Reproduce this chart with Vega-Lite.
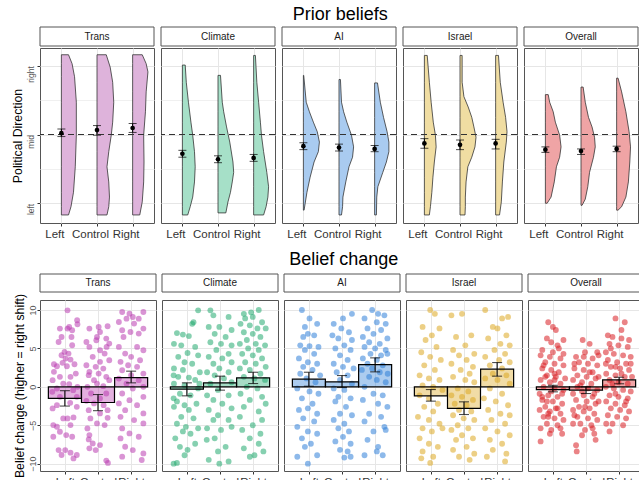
{
"$schema": "https://vega.github.io/schema/vega-lite/v6.json",
"background": "white",
"padding": {"left": 11, "top": 6, "right": 0, "bottom": 0},
"config": {
  "font": "Liberation Sans",
  "view": {"stroke": "#555555", "strokeWidth": 1},
  "axis": {"domain": false, "gridColor": "#e6e6e6", "gridWidth": 1, "tickColor": "#333333", "tickSize": 3, "tickWidth": 1, "labelColor": "#555555", "titleFontWeight": "normal", "titleColor": "#000000", "titleFontSize": 12.3},
  "axisX": {"labelFontSize": 11.5, "labelColor": "#333333", "labelPadding": 2},
  "title": {"fontSize": 18, "fontWeight": "normal", "color": "#000000", "anchor": "middle", "offset": 4}
},
"resolve": {"scale": {"x": "independent", "y": "independent", "color": "independent", "fill": "independent"}},
"spacing": 10,
"datasets": {
"top": [
{"k":"v","t":"Trans","g":1,"v":1.16,"xr":1.2,"xb":1},{"k":"v","t":"Trans","g":1,"v":1.03,"xr":1.3,"xb":1},{"k":"v","t":"Trans","g":1,"v":0.84,"xr":1.37,"xb":1},{"k":"v","t":"Trans","g":1,"v":0.47,"xr":1.42,"xb":1},{"k":"v","t":"Trans","g":1,"v":-0.01,"xr":1.42,"xb":1},{"k":"v","t":"Trans","g":1,"v":-0.47,"xr":1.39,"xb":1},{"k":"v","t":"Trans","g":1,"v":-0.84,"xr":1.34,"xb":1},{"k":"v","t":"Trans","g":1,"v":-1.05,"xr":1.27,"xb":1},{"k":"v","t":"Trans","g":1,"v":-1.17,"xr":1.2,"xb":1},
{"k":"v","t":"Trans","g":2,"v":1.16,"xr":2.26,"xb":2},{"k":"v","t":"Trans","g":2,"v":0.98,"xr":2.37,"xb":2},{"k":"v","t":"Trans","g":2,"v":0.76,"xr":2.44,"xb":2},{"k":"v","t":"Trans","g":2,"v":0.47,"xr":2.47,"xb":2},{"k":"v","t":"Trans","g":2,"v":0.18,"xr":2.44,"xb":2},{"k":"v","t":"Trans","g":2,"v":-0.01,"xr":2.4,"xb":2},{"k":"v","t":"Trans","g":2,"v":-0.25,"xr":2.33,"xb":2},{"k":"v","t":"Trans","g":2,"v":-0.47,"xr":2.28,"xb":2},{"k":"v","t":"Trans","g":2,"v":-0.69,"xr":2.33,"xb":2},{"k":"v","t":"Trans","g":2,"v":-0.91,"xr":2.35,"xb":2},{"k":"v","t":"Trans","g":2,"v":-1.05,"xr":2.33,"xb":2},{"k":"v","t":"Trans","g":2,"v":-1.17,"xr":2.28,"xb":2},
{"k":"v","t":"Trans","g":3,"v":1.16,"xr":3.27,"xb":3},{"k":"v","t":"Trans","g":3,"v":1.03,"xr":3.38,"xb":3},{"k":"v","t":"Trans","g":3,"v":0.91,"xr":3.43,"xb":3},{"k":"v","t":"Trans","g":3,"v":0.62,"xr":3.38,"xb":3},{"k":"v","t":"Trans","g":3,"v":0.33,"xr":3.36,"xb":3},{"k":"v","t":"Trans","g":3,"v":-0.01,"xr":3.31,"xb":3},{"k":"v","t":"Trans","g":3,"v":-0.4,"xr":3.32,"xb":3},{"k":"v","t":"Trans","g":3,"v":-0.69,"xr":3.31,"xb":3},{"k":"v","t":"Trans","g":3,"v":-0.98,"xr":3.27,"xb":3},{"k":"v","t":"Trans","g":3,"v":-1.17,"xr":3.2,"xb":3},
{"k":"v","t":"Climate","g":1,"v":1.01,"xr":1.08,"xb":1},{"k":"v","t":"Climate","g":1,"v":0.76,"xr":1.11,"xb":1},{"k":"v","t":"Climate","g":1,"v":0.47,"xr":1.17,"xb":1},{"k":"v","t":"Climate","g":1,"v":0.18,"xr":1.24,"xb":1},{"k":"v","t":"Climate","g":1,"v":-0.01,"xr":1.29,"xb":1},{"k":"v","t":"Climate","g":1,"v":-0.25,"xr":1.34,"xb":1},{"k":"v","t":"Climate","g":1,"v":-0.47,"xr":1.36,"xb":1},{"k":"v","t":"Climate","g":1,"v":-0.69,"xr":1.34,"xb":1},{"k":"v","t":"Climate","g":1,"v":-0.91,"xr":1.29,"xb":1},{"k":"v","t":"Climate","g":1,"v":-1.05,"xr":1.22,"xb":1},{"k":"v","t":"Climate","g":1,"v":-1.17,"xr":1.15,"xb":1},
{"k":"v","t":"Climate","g":2,"v":0.86,"xr":2.07,"xb":2},{"k":"v","t":"Climate","g":2,"v":0.47,"xr":2.12,"xb":2},{"k":"v","t":"Climate","g":2,"v":0.33,"xr":2.16,"xb":2},{"k":"v","t":"Climate","g":2,"v":0.11,"xr":2.24,"xb":2},{"k":"v","t":"Climate","g":2,"v":-0.11,"xr":2.33,"xb":2},{"k":"v","t":"Climate","g":2,"v":-0.4,"xr":2.42,"xb":2},{"k":"v","t":"Climate","g":2,"v":-0.55,"xr":2.44,"xb":2},{"k":"v","t":"Climate","g":2,"v":-0.69,"xr":2.4,"xb":2},{"k":"v","t":"Climate","g":2,"v":-0.84,"xr":2.35,"xb":2},{"k":"v","t":"Climate","g":2,"v":-0.98,"xr":2.28,"xb":2},{"k":"v","t":"Climate","g":2,"v":-1.14,"xr":2.22,"xb":2},
{"k":"v","t":"Climate","g":3,"v":1.15,"xr":3.05,"xb":3},{"k":"v","t":"Climate","g":3,"v":0.76,"xr":3.09,"xb":3},{"k":"v","t":"Climate","g":3,"v":0.47,"xr":3.14,"xb":3},{"k":"v","t":"Climate","g":3,"v":0.18,"xr":3.19,"xb":3},{"k":"v","t":"Climate","g":3,"v":-0.01,"xr":3.22,"xb":3},{"k":"v","t":"Climate","g":3,"v":-0.25,"xr":3.28,"xb":3},{"k":"v","t":"Climate","g":3,"v":-0.55,"xr":3.37,"xb":3},{"k":"v","t":"Climate","g":3,"v":-0.76,"xr":3.42,"xb":3},{"k":"v","t":"Climate","g":3,"v":-0.91,"xr":3.4,"xb":3},{"k":"v","t":"Climate","g":3,"v":-1.05,"xr":3.35,"xb":3},{"k":"v","t":"Climate","g":3,"v":-1.17,"xr":3.28,"xb":3},
{"k":"v","t":"AI","g":1,"v":0.86,"xr":1.01,"xb":1},{"k":"v","t":"AI","g":1,"v":0.47,"xr":1.08,"xb":1},{"k":"v","t":"AI","g":1,"v":0.33,"xr":1.17,"xb":1},{"k":"v","t":"AI","g":1,"v":0.18,"xr":1.28,"xb":1},{"k":"v","t":"AI","g":1,"v":0.04,"xr":1.39,"xb":1},{"k":"v","t":"AI","g":1,"v":-0.11,"xr":1.45,"xb":1},{"k":"v","t":"AI","g":1,"v":-0.25,"xr":1.42,"xb":1},{"k":"v","t":"AI","g":1,"v":-0.4,"xr":1.3,"xb":1},{"k":"v","t":"AI","g":1,"v":-0.62,"xr":1.19,"xb":1},{"k":"v","t":"AI","g":1,"v":-0.84,"xr":1.1,"xb":1},{"k":"v","t":"AI","g":1,"v":-1.1,"xr":1.02,"xb":1},
{"k":"v","t":"AI","g":2,"v":0.8,"xr":2.04,"xb":2},{"k":"v","t":"AI","g":2,"v":0.47,"xr":2.07,"xb":2},{"k":"v","t":"AI","g":2,"v":0.33,"xr":2.13,"xb":2},{"k":"v","t":"AI","g":2,"v":0.18,"xr":2.22,"xb":2},{"k":"v","t":"AI","g":2,"v":-0.01,"xr":2.35,"xb":2},{"k":"v","t":"AI","g":2,"v":-0.18,"xr":2.41,"xb":2},{"k":"v","t":"AI","g":2,"v":-0.33,"xr":2.38,"xb":2},{"k":"v","t":"AI","g":2,"v":-0.47,"xr":2.28,"xb":2},{"k":"v","t":"AI","g":2,"v":-0.69,"xr":2.19,"xb":2},{"k":"v","t":"AI","g":2,"v":-0.91,"xr":2.11,"xb":2},{"k":"v","t":"AI","g":2,"v":-1.05,"xr":2.1,"xb":2},{"k":"v","t":"AI","g":2,"v":-1.17,"xr":2.07,"xb":2},
{"k":"v","t":"AI","g":3,"v":0.75,"xr":3.08,"xb":3},{"k":"v","t":"AI","g":3,"v":0.47,"xr":3.16,"xb":3},{"k":"v","t":"AI","g":3,"v":0.25,"xr":3.25,"xb":3},{"k":"v","t":"AI","g":3,"v":0.04,"xr":3.35,"xb":3},{"k":"v","t":"AI","g":3,"v":-0.11,"xr":3.4,"xb":3},{"k":"v","t":"AI","g":3,"v":-0.25,"xr":3.4,"xb":3},{"k":"v","t":"AI","g":3,"v":-0.4,"xr":3.33,"xb":3},{"k":"v","t":"AI","g":3,"v":-0.55,"xr":3.23,"xb":3},{"k":"v","t":"AI","g":3,"v":-0.76,"xr":3.09,"xb":3},{"k":"v","t":"AI","g":3,"v":-0.91,"xr":3.06,"xb":3},{"k":"v","t":"AI","g":3,"v":-1.17,"xr":3.05,"xb":3},
{"k":"v","t":"Israel","g":1,"v":1.15,"xr":1.08,"xb":1},{"k":"v","t":"Israel","g":1,"v":0.76,"xr":1.14,"xb":1},{"k":"v","t":"Israel","g":1,"v":0.47,"xr":1.19,"xb":1},{"k":"v","t":"Israel","g":1,"v":0.18,"xr":1.25,"xb":1},{"k":"v","t":"Israel","g":1,"v":-0.01,"xr":1.31,"xb":1},{"k":"v","t":"Israel","g":1,"v":-0.18,"xr":1.33,"xb":1},{"k":"v","t":"Israel","g":1,"v":-0.4,"xr":1.28,"xb":1},{"k":"v","t":"Israel","g":1,"v":-0.62,"xr":1.24,"xb":1},{"k":"v","t":"Israel","g":1,"v":-0.84,"xr":1.21,"xb":1},{"k":"v","t":"Israel","g":1,"v":-1.05,"xr":1.17,"xb":1},{"k":"v","t":"Israel","g":1,"v":-1.17,"xr":1.14,"xb":1},
{"k":"v","t":"Israel","g":2,"v":1.15,"xr":2.06,"xb":2},{"k":"v","t":"Israel","g":2,"v":0.76,"xr":2.06,"xb":2},{"k":"v","t":"Israel","g":2,"v":0.55,"xr":2.11,"xb":2},{"k":"v","t":"Israel","g":2,"v":0.4,"xr":2.23,"xb":2},{"k":"v","t":"Israel","g":2,"v":0.25,"xr":2.33,"xb":2},{"k":"v","t":"Israel","g":2,"v":0.11,"xr":2.39,"xb":2},{"k":"v","t":"Israel","g":2,"v":-0.04,"xr":2.45,"xb":2},{"k":"v","t":"Israel","g":2,"v":-0.18,"xr":2.42,"xb":2},{"k":"v","t":"Israel","g":2,"v":-0.33,"xr":2.33,"xb":2},{"k":"v","t":"Israel","g":2,"v":-0.47,"xr":2.22,"xb":2},{"k":"v","t":"Israel","g":2,"v":-0.69,"xr":2.17,"xb":2},{"k":"v","t":"Israel","g":2,"v":-0.91,"xr":2.15,"xb":2},{"k":"v","t":"Israel","g":2,"v":-1.05,"xr":2.15,"xb":2},{"k":"v","t":"Israel","g":2,"v":-1.17,"xr":2.14,"xb":2},
{"k":"v","t":"Israel","g":3,"v":1.15,"xr":3.08,"xb":3},{"k":"v","t":"Israel","g":3,"v":0.76,"xr":3.13,"xb":3},{"k":"v","t":"Israel","g":3,"v":0.47,"xr":3.21,"xb":3},{"k":"v","t":"Israel","g":3,"v":0.25,"xr":3.28,"xb":3},{"k":"v","t":"Israel","g":3,"v":0.04,"xr":3.32,"xb":3},{"k":"v","t":"Israel","g":3,"v":-0.11,"xr":3.3,"xb":3},{"k":"v","t":"Israel","g":3,"v":-0.4,"xr":3.23,"xb":3},{"k":"v","t":"Israel","g":3,"v":-0.69,"xr":3.19,"xb":3},{"k":"v","t":"Israel","g":3,"v":-0.98,"xr":3.16,"xb":3},{"k":"v","t":"Israel","g":3,"v":-1.17,"xr":3.11,"xb":3},
{"k":"v","t":"Overall","g":1,"v":0.58,"xr":1.08,"xb":1},{"k":"v","t":"Overall","g":1,"v":0.47,"xr":1.12,"xb":1},{"k":"v","t":"Overall","g":1,"v":0.33,"xr":1.22,"xb":1},{"k":"v","t":"Overall","g":1,"v":0.18,"xr":1.28,"xb":1},{"k":"v","t":"Overall","g":1,"v":-0.01,"xr":1.4,"xb":1},{"k":"v","t":"Overall","g":1,"v":-0.18,"xr":1.44,"xb":1},{"k":"v","t":"Overall","g":1,"v":-0.33,"xr":1.4,"xb":1},{"k":"v","t":"Overall","g":1,"v":-0.47,"xr":1.31,"xb":1},{"k":"v","t":"Overall","g":1,"v":-0.69,"xr":1.25,"xb":1},{"k":"v","t":"Overall","g":1,"v":-0.91,"xr":1.16,"xb":1},{"k":"v","t":"Overall","g":1,"v":-1.0,"xr":1.05,"xb":1},
{"k":"v","t":"Overall","g":2,"v":0.69,"xr":2.06,"xb":2},{"k":"v","t":"Overall","g":2,"v":0.47,"xr":2.12,"xb":2},{"k":"v","t":"Overall","g":2,"v":0.25,"xr":2.21,"xb":2},{"k":"v","t":"Overall","g":2,"v":0.11,"xr":2.31,"xb":2},{"k":"v","t":"Overall","g":2,"v":-0.04,"xr":2.38,"xb":2},{"k":"v","t":"Overall","g":2,"v":-0.18,"xr":2.4,"xb":2},{"k":"v","t":"Overall","g":2,"v":-0.33,"xr":2.35,"xb":2},{"k":"v","t":"Overall","g":2,"v":-0.55,"xr":2.24,"xb":2},{"k":"v","t":"Overall","g":2,"v":-0.76,"xr":2.19,"xb":2},{"k":"v","t":"Overall","g":2,"v":-0.94,"xr":2.12,"xb":2},{"k":"v","t":"Overall","g":2,"v":-1.03,"xr":2.03,"xb":2},
{"k":"v","t":"Overall","g":3,"v":0.82,"xr":3.04,"xb":3},{"k":"v","t":"Overall","g":3,"v":0.62,"xr":3.14,"xb":3},{"k":"v","t":"Overall","g":3,"v":0.33,"xr":3.26,"xb":3},{"k":"v","t":"Overall","g":3,"v":0.04,"xr":3.35,"xb":3},{"k":"v","t":"Overall","g":3,"v":-0.18,"xr":3.39,"xb":3},{"k":"v","t":"Overall","g":3,"v":-0.4,"xr":3.37,"xb":3},{"k":"v","t":"Overall","g":3,"v":-0.69,"xr":3.33,"xb":3},{"k":"v","t":"Overall","g":3,"v":-0.91,"xr":3.26,"xb":3},{"k":"v","t":"Overall","g":3,"v":-1.05,"xr":3.14,"xb":3},{"k":"v","t":"Overall","g":3,"v":-1.1,"xr":3.04,"xb":3},
{"k":"s","t":"Trans","x":1,"m":0.02,"lo":-0.03,"hi":0.08},{"k":"s","t":"Trans","x":2,"m":0.065,"lo":-0.01,"hi":0.13},{"k":"s","t":"Trans","x":3,"m":0.095,"lo":0.03,"hi":0.16},
{"k":"s","t":"Climate","x":1,"m":-0.28,"lo":-0.33,"hi":-0.23},{"k":"s","t":"Climate","x":2,"m":-0.36,"lo":-0.41,"hi":-0.31},{"k":"s","t":"Climate","x":3,"m":-0.34,"lo":-0.39,"hi":-0.29},
{"k":"s","t":"AI","x":1,"m":-0.17,"lo":-0.22,"hi":-0.12},{"k":"s","t":"AI","x":2,"m":-0.19,"lo":-0.24,"hi":-0.14},{"k":"s","t":"AI","x":3,"m":-0.21,"lo":-0.25,"hi":-0.16},
{"k":"s","t":"Israel","x":1,"m":-0.13,"lo":-0.2,"hi":-0.06},{"k":"s","t":"Israel","x":2,"m":-0.15,"lo":-0.22,"hi":-0.08},{"k":"s","t":"Israel","x":3,"m":-0.13,"lo":-0.21,"hi":-0.07},
{"k":"s","t":"Overall","x":1,"m":-0.22,"lo":-0.26,"hi":-0.18},{"k":"s","t":"Overall","x":2,"m":-0.24,"lo":-0.29,"hi":-0.21},{"k":"s","t":"Overall","x":3,"m":-0.21,"lo":-0.25,"hi":-0.17}
],
"bot": [
{"k":"b","t":"Trans","x":1,"m":-1.5,"lo":-2.5,"hi":-0.5},{"k":"b","t":"Trans","x":2,"m":-2.04,"lo":-3.1,"hi":-1.0},{"k":"b","t":"Trans","x":3,"m":1.21,"lo":0.52,"hi":2.04},
{"k":"b","t":"Climate","x":1,"m":-0.3,"lo":-1.17,"hi":0.52},{"k":"b","t":"Climate","x":2,"m":0.52,"lo":-0.43,"hi":1.39},{"k":"b","t":"Climate","x":3,"m":1.17,"lo":0.43,"hi":1.9},
{"k":"b","t":"AI","x":1,"m":1.0,"lo":0.08,"hi":1.9},{"k":"b","t":"AI","x":2,"m":0.65,"lo":-0.09,"hi":1.47},{"k":"b","t":"AI","x":3,"m":2.9,"lo":1.95,"hi":3.77},
{"k":"b","t":"Israel","x":1,"m":-1.17,"lo":-1.86,"hi":-0.35},{"k":"b","t":"Israel","x":2,"m":-2.81,"lo":-3.6,"hi":-1.95},{"k":"b","t":"Israel","x":3,"m":2.3,"lo":1.39,"hi":3.16},
{"k":"b","t":"Overall","x":1,"m":-0.35,"lo":-0.65,"hi":0.2},{"k":"b","t":"Overall","x":2,"m":-0.43,"lo":-0.87,"hi":0.0},{"k":"b","t":"Overall","x":3,"m":0.9,"lo":0.4,"hi":1.25},
{"k":"p","t":"Trans","x":1.08,"v":9.96},{"k":"p","t":"Trans","x":1.37,"v":8.66},{"k":"p","t":"Trans","x":1.38,"v":8.14},{"k":"p","t":"Trans","x":0.85,"v":7.58},{"k":"p","t":"Trans","x":1.08,"v":7.58},{"k":"p","t":"Trans","x":1.13,"v":7.79},{"k":"p","t":"Trans","x":1.22,"v":7.36},{"k":"p","t":"Trans","x":1.2,"v":6.49},{"k":"p","t":"Trans","x":0.9,"v":6.49},{"k":"p","t":"Trans","x":0.81,"v":5.84},{"k":"p","t":"Trans","x":1.22,"v":5.41},{"k":"p","t":"Trans","x":0.99,"v":4.55},{"k":"p","t":"Trans","x":1.11,"v":4.33},{"k":"p","t":"Trans","x":0.9,"v":4.11},{"k":"p","t":"Trans","x":1.02,"v":3.68},{"k":"p","t":"Trans","x":1.17,"v":3.55},{"k":"p","t":"Trans","x":0.93,"v":3.12},{"k":"p","t":"Trans","x":0.67,"v":2.94},{"k":"p","t":"Trans","x":0.76,"v":2.68},{"k":"p","t":"Trans","x":1.06,"v":2.68},{"k":"p","t":"Trans","x":1.29,"v":2.94},{"k":"p","t":"Trans","x":1.33,"v":1.73},{"k":"p","t":"Trans","x":0.67,"v":1.95},{"k":"p","t":"Trans","x":0.85,"v":1.3},{"k":"p","t":"Trans","x":1.17,"v":1.3},{"k":"p","t":"Trans","x":0.63,"v":0.87},{"k":"p","t":"Trans","x":0.95,"v":0.43},{"k":"p","t":"Trans","x":1.13,"v":0.35},{"k":"p","t":"Trans","x":0.76,"v":-0.22},{"k":"p","t":"Trans","x":0.62,"v":-0.65},{"k":"p","t":"Trans","x":1.25,"v":-0.43},{"k":"p","t":"Trans","x":1.38,"v":0},{"k":"p","t":"Trans","x":0.85,"v":-1.3},{"k":"p","t":"Trans","x":1.36,"v":-1.3},{"k":"p","t":"Trans","x":0.63,"v":-2.81},{"k":"p","t":"Trans","x":0.76,"v":-2.38},{"k":"p","t":"Trans","x":1.16,"v":-2.08},{"k":"p","t":"Trans","x":1.36,"v":-2.6},{"k":"p","t":"Trans","x":0.95,"v":-4.11},{"k":"p","t":"Trans","x":1.08,"v":-4.11},{"k":"p","t":"Trans","x":1.26,"v":-3.98},{"k":"p","t":"Trans","x":0.65,"v":-4.98},{"k":"p","t":"Trans","x":0.76,"v":-5.19},{"k":"p","t":"Trans","x":1.17,"v":-4.98},{"k":"p","t":"Trans","x":0.85,"v":-5.84},{"k":"p","t":"Trans","x":1.04,"v":-6.28},{"k":"p","t":"Trans","x":0.65,"v":-6.49},{"k":"p","t":"Trans","x":1.22,"v":-6.49},{"k":"p","t":"Trans","x":0.81,"v":-8.23},{"k":"p","t":"Trans","x":1.01,"v":-8.23},{"k":"p","t":"Trans","x":0.9,"v":-8.87},{"k":"p","t":"Trans","x":1.17,"v":-8.57},{"k":"p","t":"Trans","x":1.26,"v":-9.31},{"k":"p","t":"Trans","x":1.36,"v":-8.87},
{"k":"p","t":"Trans","x":1.74,"v":7.58},{"k":"p","t":"Trans","x":2.02,"v":7.79},{"k":"p","t":"Trans","x":2.29,"v":7.88},{"k":"p","t":"Trans","x":2.06,"v":7.14},{"k":"p","t":"Trans","x":1.97,"v":6.49},{"k":"p","t":"Trans","x":2.25,"v":6.28},{"k":"p","t":"Trans","x":1.95,"v":6.06},{"k":"p","t":"Trans","x":1.65,"v":5.84},{"k":"p","t":"Trans","x":1.74,"v":5.19},{"k":"p","t":"Trans","x":2.34,"v":5.63},{"k":"p","t":"Trans","x":2.26,"v":5.19},{"k":"p","t":"Trans","x":2.06,"v":4.76},{"k":"p","t":"Trans","x":2.2,"v":4.33},{"k":"p","t":"Trans","x":1.84,"v":3.9},{"k":"p","t":"Trans","x":2.34,"v":3.46},{"k":"p","t":"Trans","x":2.06,"v":3.25},{"k":"p","t":"Trans","x":1.65,"v":2.81},{"k":"p","t":"Trans","x":1.93,"v":2.6},{"k":"p","t":"Trans","x":2.16,"v":2.38},{"k":"p","t":"Trans","x":1.74,"v":1.95},{"k":"p","t":"Trans","x":1.72,"v":1.52},{"k":"p","t":"Trans","x":2.02,"v":1.73},{"k":"p","t":"Trans","x":2.25,"v":1.3},{"k":"p","t":"Trans","x":1.88,"v":0.87},{"k":"p","t":"Trans","x":2.34,"v":0.87},{"k":"p","t":"Trans","x":1.97,"v":0.43},{"k":"p","t":"Trans","x":2.16,"v":0.09},{"k":"p","t":"Trans","x":1.68,"v":0},{"k":"p","t":"Trans","x":1.79,"v":-0.87},{"k":"p","t":"Trans","x":2.25,"v":-0.87},{"k":"p","t":"Trans","x":2.06,"v":-1.52},{"k":"p","t":"Trans","x":1.65,"v":-1.82},{"k":"p","t":"Trans","x":1.88,"v":-2.16},{"k":"p","t":"Trans","x":2.17,"v":-2.38},{"k":"p","t":"Trans","x":1.72,"v":-3.03},{"k":"p","t":"Trans","x":2.06,"v":-3.46},{"k":"p","t":"Trans","x":2.29,"v":-3.03},{"k":"p","t":"Trans","x":1.77,"v":-4.11},{"k":"p","t":"Trans","x":2.29,"v":-4.03},{"k":"p","t":"Trans","x":1.68,"v":-5.41},{"k":"p","t":"Trans","x":1.97,"v":-4.76},{"k":"p","t":"Trans","x":2.2,"v":-4.98},{"k":"p","t":"Trans","x":1.74,"v":-6.28},{"k":"p","t":"Trans","x":1.72,"v":-6.84},{"k":"p","t":"Trans","x":1.84,"v":-7.36},{"k":"p","t":"Trans","x":2.06,"v":-7.58},{"k":"p","t":"Trans","x":1.74,"v":-8.0},{"k":"p","t":"Trans","x":1.93,"v":-8.23},{"k":"p","t":"Trans","x":2.3,"v":-9.9},{"k":"p","t":"Trans","x":2.25,"v":-9.6},
{"k":"p","t":"Trans","x":2.73,"v":9.74},{"k":"p","t":"Trans","x":2.95,"v":9.52},{"k":"p","t":"Trans","x":3.05,"v":9.09},{"k":"p","t":"Trans","x":3.37,"v":9.74},{"k":"p","t":"Trans","x":3.23,"v":8.87},{"k":"p","t":"Trans","x":2.86,"v":8.87},{"k":"p","t":"Trans","x":2.63,"v":8.44},{"k":"p","t":"Trans","x":3.09,"v":8.23},{"k":"p","t":"Trans","x":3.37,"v":7.58},{"k":"p","t":"Trans","x":2.73,"v":7.36},{"k":"p","t":"Trans","x":2.98,"v":7.14},{"k":"p","t":"Trans","x":3.23,"v":6.93},{"k":"p","t":"Trans","x":2.77,"v":6.49},{"k":"p","t":"Trans","x":2.63,"v":5.19},{"k":"p","t":"Trans","x":3.18,"v":5.19},{"k":"p","t":"Trans","x":3.37,"v":4.76},{"k":"p","t":"Trans","x":2.82,"v":4.33},{"k":"p","t":"Trans","x":3.0,"v":3.9},{"k":"p","t":"Trans","x":2.68,"v":3.25},{"k":"p","t":"Trans","x":3.27,"v":3.46},{"k":"p","t":"Trans","x":2.91,"v":2.81},{"k":"p","t":"Trans","x":3.18,"v":2.6},{"k":"p","t":"Trans","x":2.73,"v":2.16},{"k":"p","t":"Trans","x":3.37,"v":1.73},{"k":"p","t":"Trans","x":3.0,"v":1.52},{"k":"p","t":"Trans","x":2.63,"v":1.08},{"k":"p","t":"Trans","x":3.23,"v":0.87},{"k":"p","t":"Trans","x":2.86,"v":0.43},{"k":"p","t":"Trans","x":3.37,"v":0},{"k":"p","t":"Trans","x":3.05,"v":-0.22},{"k":"p","t":"Trans","x":2.73,"v":-0.87},{"k":"p","t":"Trans","x":3.37,"v":-1.3},{"k":"p","t":"Trans","x":2.95,"v":-1.73},{"k":"p","t":"Trans","x":2.63,"v":-2.16},{"k":"p","t":"Trans","x":3.18,"v":-2.38},{"k":"p","t":"Trans","x":2.82,"v":-3.03},{"k":"p","t":"Trans","x":3.37,"v":-3.46},{"k":"p","t":"Trans","x":2.68,"v":-3.9},{"k":"p","t":"Trans","x":3.09,"v":-4.33},{"k":"p","t":"Trans","x":3.37,"v":-4.76},{"k":"p","t":"Trans","x":2.73,"v":-5.41},{"k":"p","t":"Trans","x":2.95,"v":-6.06},{"k":"p","t":"Trans","x":2.68,"v":-6.71},{"k":"p","t":"Trans","x":3.23,"v":-6.49},{"k":"p","t":"Trans","x":2.82,"v":-7.79},{"k":"p","t":"Trans","x":3.05,"v":-8.23},{"k":"p","t":"Trans","x":3.37,"v":-8.66},{"k":"p","t":"Trans","x":2.73,"v":-9.09},{"k":"p","t":"Trans","x":3.32,"v":-9.52},
{"k":"p","t":"Climate","x":1.34,"v":9.96},{"k":"p","t":"Climate","x":0.7,"v":7.0},{"k":"p","t":"Climate","x":0.88,"v":6.8},{"k":"p","t":"Climate","x":1.16,"v":8.2},{"k":"p","t":"Climate","x":1.2,"v":8.4},{"k":"p","t":"Climate","x":1.06,"v":6.6},{"k":"p","t":"Climate","x":0.61,"v":5.6},{"k":"p","t":"Climate","x":0.83,"v":5.4},{"k":"p","t":"Climate","x":1.25,"v":5.2},{"k":"p","t":"Climate","x":1.02,"v":4.4},{"k":"p","t":"Climate","x":0.74,"v":3.9},{"k":"p","t":"Climate","x":1.34,"v":4.1},{"k":"p","t":"Climate","x":0.93,"v":3.2},{"k":"p","t":"Climate","x":1.16,"v":3.0},{"k":"p","t":"Climate","x":0.61,"v":2.4},{"k":"p","t":"Climate","x":0.88,"v":2.2},{"k":"p","t":"Climate","x":1.39,"v":1.9},{"k":"p","t":"Climate","x":0.74,"v":1.3},{"k":"p","t":"Climate","x":1.06,"v":1.2},{"k":"p","t":"Climate","x":1.25,"v":0.9},{"k":"p","t":"Climate","x":0.61,"v":0.4},{"k":"p","t":"Climate","x":0.93,"v":0.2},{"k":"p","t":"Climate","x":1.34,"v":-0.2},{"k":"p","t":"Climate","x":0.79,"v":-0.9},{"k":"p","t":"Climate","x":1.11,"v":-1.1},{"k":"p","t":"Climate","x":0.6,"v":-1.5},{"k":"p","t":"Climate","x":0.7,"v":-1.9},{"k":"p","t":"Climate","x":0.93,"v":-2.4},{"k":"p","t":"Climate","x":1.29,"v":-2.2},{"k":"p","t":"Climate","x":0.61,"v":-2.6},{"k":"p","t":"Climate","x":1.06,"v":-3.0},{"k":"p","t":"Climate","x":0.83,"v":-3.9},{"k":"p","t":"Climate","x":1.2,"v":-4.1},{"k":"p","t":"Climate","x":0.7,"v":-4.8},{"k":"p","t":"Climate","x":0.97,"v":-5.2},{"k":"p","t":"Climate","x":1.34,"v":-5.4},{"k":"p","t":"Climate","x":0.88,"v":-5.8},{"k":"p","t":"Climate","x":1.11,"v":-6.1},{"k":"p","t":"Climate","x":0.65,"v":-6.7},{"k":"p","t":"Climate","x":1.25,"v":-7.4},{"k":"p","t":"Climate","x":0.79,"v":-7.8},{"k":"p","t":"Climate","x":1.02,"v":-8.2},{"k":"p","t":"Climate","x":0.93,"v":-8.9},{"k":"p","t":"Climate","x":0.7,"v":-9.9},{"k":"p","t":"Climate","x":0.6,"v":-10.0},{"k":"p","t":"Climate","x":0.6,"v":1.5},{"k":"p","t":"Climate","x":1.38,"v":0.4},
{"k":"p","t":"Climate","x":1.71,"v":9.96},{"k":"p","t":"Climate","x":1.8,"v":9.3},{"k":"p","t":"Climate","x":2.26,"v":9.1},{"k":"p","t":"Climate","x":1.66,"v":7.8},{"k":"p","t":"Climate","x":1.98,"v":7.8},{"k":"p","t":"Climate","x":2.35,"v":7.4},{"k":"p","t":"Climate","x":1.84,"v":6.9},{"k":"p","t":"Climate","x":2.17,"v":6.5},{"k":"p","t":"Climate","x":1.71,"v":5.8},{"k":"p","t":"Climate","x":2.03,"v":5.6},{"k":"p","t":"Climate","x":2.35,"v":5.4},{"k":"p","t":"Climate","x":1.89,"v":4.8},{"k":"p","t":"Climate","x":2.26,"v":4.3},{"k":"p","t":"Climate","x":1.66,"v":3.9},{"k":"p","t":"Climate","x":2.07,"v":3.7},{"k":"p","t":"Climate","x":1.8,"v":3.0},{"k":"p","t":"Climate","x":2.35,"v":3.2},{"k":"p","t":"Climate","x":1.98,"v":2.4},{"k":"p","t":"Climate","x":1.61,"v":1.9},{"k":"p","t":"Climate","x":2.26,"v":1.9},{"k":"p","t":"Climate","x":1.84,"v":1.5},{"k":"p","t":"Climate","x":2.12,"v":1.1},{"k":"p","t":"Climate","x":1.71,"v":0.4},{"k":"p","t":"Climate","x":2.35,"v":0.6},{"k":"p","t":"Climate","x":1.94,"v":-0.4},{"k":"p","t":"Climate","x":1.61,"v":-1.1},{"k":"p","t":"Climate","x":2.26,"v":-1.1},{"k":"p","t":"Climate","x":1.8,"v":-1.7},{"k":"p","t":"Climate","x":2.07,"v":-2.2},{"k":"p","t":"Climate","x":1.66,"v":-3.0},{"k":"p","t":"Climate","x":2.35,"v":-2.8},{"k":"p","t":"Climate","x":1.94,"v":-3.7},{"k":"p","t":"Climate","x":1.8,"v":-4.3},{"k":"p","t":"Climate","x":2.26,"v":-4.3},{"k":"p","t":"Climate","x":1.61,"v":-5.4},{"k":"p","t":"Climate","x":2.03,"v":-5.6},{"k":"p","t":"Climate","x":2.35,"v":-5.2},{"k":"p","t":"Climate","x":1.84,"v":-6.7},{"k":"p","t":"Climate","x":1.6,"v":-6.9},{"k":"p","t":"Climate","x":2.17,"v":-7.8},{"k":"p","t":"Climate","x":1.94,"v":-8.4},{"k":"p","t":"Climate","x":1.66,"v":-9.5},{"k":"p","t":"Climate","x":2.26,"v":-9.7},{"k":"p","t":"Climate","x":1.98,"v":-10.0},
{"k":"p","t":"Climate","x":2.72,"v":9.5},{"k":"p","t":"Climate","x":2.94,"v":9.7},{"k":"p","t":"Climate","x":3.17,"v":10.0},{"k":"p","t":"Climate","x":2.76,"v":8.9},{"k":"p","t":"Climate","x":2.99,"v":9.1},{"k":"p","t":"Climate","x":3.27,"v":8.4},{"k":"p","t":"Climate","x":2.62,"v":8.2},{"k":"p","t":"Climate","x":2.9,"v":8.0},{"k":"p","t":"Climate","x":3.13,"v":7.6},{"k":"p","t":"Climate","x":3.38,"v":7.6},{"k":"p","t":"Climate","x":2.72,"v":7.1},{"k":"p","t":"Climate","x":2.99,"v":6.9},{"k":"p","t":"Climate","x":3.22,"v":6.5},{"k":"p","t":"Climate","x":2.81,"v":6.1},{"k":"p","t":"Climate","x":2.6,"v":5.6},{"k":"p","t":"Climate","x":3.08,"v":5.6},{"k":"p","t":"Climate","x":3.36,"v":5.4},{"k":"p","t":"Climate","x":2.85,"v":5.0},{"k":"p","t":"Climate","x":3.17,"v":4.8},{"k":"p","t":"Climate","x":2.67,"v":4.3},{"k":"p","t":"Climate","x":2.99,"v":4.1},{"k":"p","t":"Climate","x":3.27,"v":3.7},{"k":"p","t":"Climate","x":2.76,"v":3.2},{"k":"p","t":"Climate","x":3.08,"v":3.0},{"k":"p","t":"Climate","x":3.38,"v":2.6},{"k":"p","t":"Climate","x":2.6,"v":2.4},{"k":"p","t":"Climate","x":2.9,"v":2.2},{"k":"p","t":"Climate","x":3.22,"v":1.7},{"k":"p","t":"Climate","x":2.72,"v":1.3},{"k":"p","t":"Climate","x":3.04,"v":1.1},{"k":"p","t":"Climate","x":3.36,"v":0.9},{"k":"p","t":"Climate","x":2.81,"v":0.0},{"k":"p","t":"Climate","x":3.13,"v":-0.2},{"k":"p","t":"Climate","x":2.62,"v":-0.9},{"k":"p","t":"Climate","x":3.27,"v":-1.3},{"k":"p","t":"Climate","x":2.9,"v":-1.7},{"k":"p","t":"Climate","x":3.38,"v":-2.2},{"k":"p","t":"Climate","x":2.72,"v":-2.6},{"k":"p","t":"Climate","x":3.17,"v":-3.2},{"k":"p","t":"Climate","x":2.6,"v":-3.9},{"k":"p","t":"Climate","x":3.27,"v":-4.3},{"k":"p","t":"Climate","x":2.99,"v":-5.0},{"k":"p","t":"Climate","x":2.67,"v":-5.6},{"k":"p","t":"Climate","x":3.22,"v":-6.1},{"k":"p","t":"Climate","x":2.9,"v":-6.7},{"k":"p","t":"Climate","x":3.17,"v":-7.4},{"k":"p","t":"Climate","x":2.72,"v":-8.0},{"k":"p","t":"Climate","x":3.04,"v":-8.9},{"k":"p","t":"Climate","x":3.31,"v":-8.4},{"k":"p","t":"Climate","x":2.9,"v":-9.1},
{"k":"p","t":"AI","x":0.79,"v":10.0},{"k":"p","t":"AI","x":1.02,"v":8.9},{"k":"p","t":"AI","x":0.88,"v":7.8},{"k":"p","t":"AI","x":1.25,"v":8.2},{"k":"p","t":"AI","x":0.97,"v":6.9},{"k":"p","t":"AI","x":0.83,"v":6.5},{"k":"p","t":"AI","x":1.16,"v":6.7},{"k":"p","t":"AI","x":0.74,"v":5.4},{"k":"p","t":"AI","x":1.02,"v":5.3},{"k":"p","t":"AI","x":1.29,"v":5.2},{"k":"p","t":"AI","x":0.88,"v":4.8},{"k":"p","t":"AI","x":1.16,"v":4.3},{"k":"p","t":"AI","x":0.7,"v":3.7},{"k":"p","t":"AI","x":0.97,"v":3.2},{"k":"p","t":"AI","x":1.25,"v":3.0},{"k":"p","t":"AI","x":0.83,"v":2.6},{"k":"p","t":"AI","x":1.11,"v":2.2},{"k":"p","t":"AI","x":0.74,"v":1.7},{"k":"p","t":"AI","x":1.34,"v":1.5},{"k":"p","t":"AI","x":0.93,"v":1.1},{"k":"p","t":"AI","x":1.2,"v":0.6},{"k":"p","t":"AI","x":0.65,"v":-0.2},{"k":"p","t":"AI","x":1.02,"v":-0.6},{"k":"p","t":"AI","x":1.29,"v":-0.9},{"k":"p","t":"AI","x":0.79,"v":-1.5},{"k":"p","t":"AI","x":1.11,"v":-2.2},{"k":"p","t":"AI","x":0.7,"v":-3.0},{"k":"p","t":"AI","x":0.97,"v":-2.8},{"k":"p","t":"AI","x":1.25,"v":-3.5},{"k":"p","t":"AI","x":0.83,"v":-4.1},{"k":"p","t":"AI","x":1.16,"v":-4.5},{"k":"p","t":"AI","x":0.65,"v":-5.2},{"k":"p","t":"AI","x":0.97,"v":-5.8},{"k":"p","t":"AI","x":1.25,"v":-6.1},{"k":"p","t":"AI","x":0.79,"v":-6.7},{"k":"p","t":"AI","x":1.06,"v":-7.4},{"k":"p","t":"AI","x":0.88,"v":-7.8},{"k":"p","t":"AI","x":0.65,"v":-9.1},{"k":"p","t":"AI","x":0.97,"v":-10.0},{"k":"p","t":"AI","x":1.25,"v":-8.9},
{"k":"p","t":"AI","x":2.3,"v":9.5},{"k":"p","t":"AI","x":2.03,"v":8.9},{"k":"p","t":"AI","x":1.75,"v":8.2},{"k":"p","t":"AI","x":1.98,"v":7.6},{"k":"p","t":"AI","x":2.21,"v":7.1},{"k":"p","t":"AI","x":1.71,"v":6.7},{"k":"p","t":"AI","x":1.89,"v":6.3},{"k":"p","t":"AI","x":2.3,"v":6.1},{"k":"p","t":"AI","x":2.07,"v":5.4},{"k":"p","t":"AI","x":1.8,"v":5.0},{"k":"p","t":"AI","x":2.26,"v":4.8},{"k":"p","t":"AI","x":1.94,"v":4.1},{"k":"p","t":"AI","x":2.17,"v":3.5},{"k":"p","t":"AI","x":1.75,"v":3.0},{"k":"p","t":"AI","x":2.03,"v":2.6},{"k":"p","t":"AI","x":2.35,"v":2.4},{"k":"p","t":"AI","x":1.84,"v":1.9},{"k":"p","t":"AI","x":2.17,"v":1.5},{"k":"p","t":"AI","x":1.94,"v":0.9},{"k":"p","t":"AI","x":2.3,"v":0.4},{"k":"p","t":"AI","x":1.75,"v":-0.2},{"k":"p","t":"AI","x":2.07,"v":-0.4},{"k":"p","t":"AI","x":1.89,"v":-1.3},{"k":"p","t":"AI","x":2.26,"v":-1.5},{"k":"p","t":"AI","x":1.8,"v":-1.9},{"k":"p","t":"AI","x":2.12,"v":-2.6},{"k":"p","t":"AI","x":1.94,"v":-3.5},{"k":"p","t":"AI","x":2.3,"v":-3.7},{"k":"p","t":"AI","x":1.75,"v":-4.3},{"k":"p","t":"AI","x":2.07,"v":-4.8},{"k":"p","t":"AI","x":1.89,"v":-5.4},{"k":"p","t":"AI","x":2.21,"v":-5.8},{"k":"p","t":"AI","x":2.03,"v":-6.5},{"k":"p","t":"AI","x":1.8,"v":-7.1},{"k":"p","t":"AI","x":2.26,"v":-7.4},{"k":"p","t":"AI","x":1.94,"v":-8.2},{"k":"p","t":"AI","x":2.17,"v":-8.4},{"k":"p","t":"AI","x":2.07,"v":-9.2},{"k":"p","t":"AI","x":2.26,"v":-9.1},
{"k":"p","t":"AI","x":2.91,"v":10.0},{"k":"p","t":"AI","x":3.09,"v":9.5},{"k":"p","t":"AI","x":3.28,"v":9.3},{"k":"p","t":"AI","x":2.68,"v":8.9},{"k":"p","t":"AI","x":3.05,"v":8.4},{"k":"p","t":"AI","x":3.32,"v":8.2},{"k":"p","t":"AI","x":2.77,"v":7.6},{"k":"p","t":"AI","x":3.18,"v":7.4},{"k":"p","t":"AI","x":2.95,"v":6.9},{"k":"p","t":"AI","x":2.63,"v":6.5},{"k":"p","t":"AI","x":3.37,"v":6.3},{"k":"p","t":"AI","x":2.82,"v":5.8},{"k":"p","t":"AI","x":3.14,"v":5.6},{"k":"p","t":"AI","x":2.68,"v":5.2},{"k":"p","t":"AI","x":3.0,"v":5.0},{"k":"p","t":"AI","x":3.32,"v":4.8},{"k":"p","t":"AI","x":2.86,"v":4.3},{"k":"p","t":"AI","x":3.18,"v":4.1},{"k":"p","t":"AI","x":2.63,"v":3.7},{"k":"p","t":"AI","x":3.05,"v":3.5},{"k":"p","t":"AI","x":3.37,"v":4.3},{"k":"p","t":"AI","x":2.77,"v":3.0},{"k":"p","t":"AI","x":3.23,"v":2.8},{"k":"p","t":"AI","x":2.91,"v":2.4},{"k":"p","t":"AI","x":2.6,"v":2.2},{"k":"p","t":"AI","x":3.14,"v":1.9},{"k":"p","t":"AI","x":3.38,"v":1.7},{"k":"p","t":"AI","x":2.82,"v":1.3},{"k":"p","t":"AI","x":3.05,"v":0.9},{"k":"p","t":"AI","x":3.32,"v":0.6},{"k":"p","t":"AI","x":2.68,"v":0.0},{"k":"p","t":"AI","x":2.95,"v":-0.9},{"k":"p","t":"AI","x":3.23,"v":-1.1},{"k":"p","t":"AI","x":2.63,"v":-1.7},{"k":"p","t":"AI","x":3.09,"v":-2.2},{"k":"p","t":"AI","x":3.37,"v":-2.6},{"k":"p","t":"AI","x":2.82,"v":-3.5},{"k":"p","t":"AI","x":3.18,"v":-3.9},{"k":"p","t":"AI","x":2.68,"v":-4.5},{"k":"p","t":"AI","x":3.28,"v":-5.2},{"k":"p","t":"AI","x":2.95,"v":-5.8},{"k":"p","t":"AI","x":3.32,"v":-5.6},{"k":"p","t":"AI","x":2.77,"v":-6.9},{"k":"p","t":"AI","x":3.09,"v":-7.8},{"k":"p","t":"AI","x":2.68,"v":-8.9},{"k":"p","t":"AI","x":3.23,"v":-8.9},{"k":"p","t":"AI","x":3.05,"v":-8.4},
{"k":"p","t":"Israel","x":0.98,"v":10.0},{"k":"p","t":"Israel","x":1.12,"v":9.5},{"k":"p","t":"Israel","x":0.75,"v":7.8},{"k":"p","t":"Israel","x":1.26,"v":7.6},{"k":"p","t":"Israel","x":1.03,"v":6.7},{"k":"p","t":"Israel","x":0.84,"v":6.1},{"k":"p","t":"Israel","x":1.17,"v":5.2},{"k":"p","t":"Israel","x":0.71,"v":4.5},{"k":"p","t":"Israel","x":0.98,"v":3.9},{"k":"p","t":"Israel","x":1.3,"v":3.5},{"k":"p","t":"Israel","x":0.8,"v":2.8},{"k":"p","t":"Israel","x":1.12,"v":2.2},{"k":"p","t":"Israel","x":0.66,"v":1.5},{"k":"p","t":"Israel","x":0.94,"v":1.1},{"k":"p","t":"Israel","x":1.26,"v":0.9},{"k":"p","t":"Israel","x":0.75,"v":0.2},{"k":"p","t":"Israel","x":1.07,"v":0.0},{"k":"p","t":"Israel","x":1.35,"v":-0.4},{"k":"p","t":"Israel","x":0.66,"v":-1.1},{"k":"p","t":"Israel","x":0.94,"v":-1.5},{"k":"p","t":"Israel","x":1.21,"v":-2.2},{"k":"p","t":"Israel","x":0.8,"v":-2.6},{"k":"p","t":"Israel","x":1.07,"v":-3.2},{"k":"p","t":"Israel","x":0.61,"v":-3.9},{"k":"p","t":"Israel","x":0.94,"v":-4.3},{"k":"p","t":"Israel","x":1.26,"v":-4.8},{"k":"p","t":"Israel","x":0.75,"v":-5.4},{"k":"p","t":"Israel","x":1.03,"v":-5.8},{"k":"p","t":"Israel","x":1.35,"v":-5.4},{"k":"p","t":"Israel","x":0.66,"v":-6.7},{"k":"p","t":"Israel","x":0.94,"v":-7.4},{"k":"p","t":"Israel","x":1.21,"v":-7.8},{"k":"p","t":"Israel","x":0.75,"v":-8.4},{"k":"p","t":"Israel","x":1.07,"v":-9.1},{"k":"p","t":"Israel","x":0.71,"v":-9.3},{"k":"p","t":"Israel","x":0.98,"v":-9.9},
{"k":"p","t":"Israel","x":1.62,"v":9.3},{"k":"p","t":"Israel","x":1.94,"v":9.5},{"k":"p","t":"Israel","x":2.22,"v":6.7},{"k":"p","t":"Israel","x":1.76,"v":6.5},{"k":"p","t":"Israel","x":2.04,"v":5.4},{"k":"p","t":"Israel","x":1.67,"v":4.8},{"k":"p","t":"Israel","x":2.31,"v":4.3},{"k":"p","t":"Israel","x":1.85,"v":4.1},{"k":"p","t":"Israel","x":2.08,"v":3.5},{"k":"p","t":"Israel","x":1.62,"v":3.0},{"k":"p","t":"Israel","x":2.27,"v":2.6},{"k":"p","t":"Israel","x":1.9,"v":2.2},{"k":"p","t":"Israel","x":2.17,"v":1.7},{"k":"p","t":"Israel","x":1.67,"v":1.3},{"k":"p","t":"Israel","x":2.04,"v":0.9},{"k":"p","t":"Israel","x":2.31,"v":0.6},{"k":"p","t":"Israel","x":1.81,"v":-0.2},{"k":"p","t":"Israel","x":2.13,"v":-0.6},{"k":"p","t":"Israel","x":1.62,"v":-1.1},{"k":"p","t":"Israel","x":1.94,"v":-1.3},{"k":"p","t":"Israel","x":2.27,"v":-1.7},{"k":"p","t":"Israel","x":1.72,"v":-2.2},{"k":"p","t":"Israel","x":2.08,"v":-2.4},{"k":"p","t":"Israel","x":1.85,"v":-3.0},{"k":"p","t":"Israel","x":2.22,"v":-3.2},{"k":"p","t":"Israel","x":1.67,"v":-3.7},{"k":"p","t":"Israel","x":1.99,"v":-4.1},{"k":"p","t":"Israel","x":2.31,"v":-4.3},{"k":"p","t":"Israel","x":1.81,"v":-5.0},{"k":"p","t":"Israel","x":2.13,"v":-5.4},{"k":"p","t":"Israel","x":1.62,"v":-5.6},{"k":"p","t":"Israel","x":1.94,"v":-6.3},{"k":"p","t":"Israel","x":2.27,"v":-6.7},{"k":"p","t":"Israel","x":1.76,"v":-6.9},{"k":"p","t":"Israel","x":2.08,"v":-7.8},{"k":"p","t":"Israel","x":1.67,"v":-8.2},{"k":"p","t":"Israel","x":2.31,"v":-8.7},{"k":"p","t":"Israel","x":1.85,"v":-9.1},{"k":"p","t":"Israel","x":2.17,"v":-9.5},
{"k":"p","t":"Israel","x":2.64,"v":10.0},{"k":"p","t":"Israel","x":3.33,"v":9.1},{"k":"p","t":"Israel","x":3.15,"v":8.9},{"k":"p","t":"Israel","x":2.87,"v":7.8},{"k":"p","t":"Israel","x":3.01,"v":7.6},{"k":"p","t":"Israel","x":3.28,"v":6.7},{"k":"p","t":"Israel","x":2.73,"v":6.3},{"k":"p","t":"Israel","x":3.1,"v":5.6},{"k":"p","t":"Israel","x":3.38,"v":5.4},{"k":"p","t":"Israel","x":2.92,"v":4.8},{"k":"p","t":"Israel","x":3.24,"v":4.3},{"k":"p","t":"Israel","x":2.64,"v":3.9},{"k":"p","t":"Israel","x":3.06,"v":3.5},{"k":"p","t":"Israel","x":3.38,"v":3.2},{"k":"p","t":"Israel","x":2.78,"v":2.8},{"k":"p","t":"Israel","x":3.15,"v":2.4},{"k":"p","t":"Israel","x":2.87,"v":1.7},{"k":"p","t":"Israel","x":3.28,"v":1.5},{"k":"p","t":"Israel","x":2.64,"v":1.1},{"k":"p","t":"Israel","x":3.01,"v":0.9},{"k":"p","t":"Israel","x":3.38,"v":0.4},{"k":"p","t":"Israel","x":2.78,"v":-0.2},{"k":"p","t":"Israel","x":3.15,"v":-0.9},{"k":"p","t":"Israel","x":2.6,"v":-1.5},{"k":"p","t":"Israel","x":2.96,"v":-1.9},{"k":"p","t":"Israel","x":3.33,"v":-2.4},{"k":"p","t":"Israel","x":2.73,"v":-3.0},{"k":"p","t":"Israel","x":3.1,"v":-3.5},{"k":"p","t":"Israel","x":3.38,"v":-3.7},{"k":"p","t":"Israel","x":2.83,"v":-4.3},{"k":"p","t":"Israel","x":3.24,"v":-4.8},{"k":"p","t":"Israel","x":2.64,"v":-5.4},{"k":"p","t":"Israel","x":3.01,"v":-5.8},{"k":"p","t":"Israel","x":3.38,"v":-6.3},{"k":"p","t":"Israel","x":2.78,"v":-6.9},{"k":"p","t":"Israel","x":3.15,"v":-7.4},{"k":"p","t":"Israel","x":2.87,"v":-8.2},{"k":"p","t":"Israel","x":3.28,"v":-8.7},{"k":"p","t":"Israel","x":2.69,"v":-9.1},{"k":"p","t":"Israel","x":3.24,"v":-9.7},
{"k":"p","t":"Overall","x":0.86,"v":8.4},{"k":"p","t":"Overall","x":1.0,"v":7.8},{"k":"p","t":"Overall","x":1.09,"v":7.4},{"k":"p","t":"Overall","x":0.82,"v":6.3},{"k":"p","t":"Overall","x":1.32,"v":6.1},{"k":"p","t":"Overall","x":0.95,"v":5.8},{"k":"p","t":"Overall","x":1.14,"v":5.4},{"k":"p","t":"Overall","x":0.63,"v":4.1},{"k":"p","t":"Overall","x":0.91,"v":3.9},{"k":"p","t":"Overall","x":1.23,"v":3.7},{"k":"p","t":"Overall","x":0.77,"v":3.2},{"k":"p","t":"Overall","x":1.05,"v":3.0},{"k":"p","t":"Overall","x":1.32,"v":2.8},{"k":"p","t":"Overall","x":0.68,"v":2.4},{"k":"p","t":"Overall","x":0.95,"v":2.2},{"k":"p","t":"Overall","x":1.18,"v":1.9},{"k":"p","t":"Overall","x":0.82,"v":1.5},{"k":"p","t":"Overall","x":1.09,"v":1.3},{"k":"p","t":"Overall","x":1.37,"v":1.1},{"k":"p","t":"Overall","x":0.63,"v":0.9},{"k":"p","t":"Overall","x":0.91,"v":0.6},{"k":"p","t":"Overall","x":1.23,"v":0.4},{"k":"p","t":"Overall","x":0.72,"v":0.0},{"k":"p","t":"Overall","x":1.05,"v":-0.2},{"k":"p","t":"Overall","x":1.32,"v":-0.4},{"k":"p","t":"Overall","x":0.6,"v":-0.9},{"k":"p","t":"Overall","x":0.86,"v":-1.1},{"k":"p","t":"Overall","x":1.14,"v":-1.3},{"k":"p","t":"Overall","x":0.68,"v":-1.7},{"k":"p","t":"Overall","x":1.0,"v":-1.9},{"k":"p","t":"Overall","x":1.28,"v":-2.2},{"k":"p","t":"Overall","x":0.77,"v":-2.6},{"k":"p","t":"Overall","x":1.09,"v":-2.8},{"k":"p","t":"Overall","x":0.6,"v":-3.0},{"k":"p","t":"Overall","x":0.91,"v":-3.2},{"k":"p","t":"Overall","x":1.23,"v":-3.5},{"k":"p","t":"Overall","x":0.72,"v":-3.9},{"k":"p","t":"Overall","x":1.05,"v":-4.1},{"k":"p","t":"Overall","x":1.32,"v":-4.3},{"k":"p","t":"Overall","x":0.82,"v":-4.8},{"k":"p","t":"Overall","x":1.14,"v":-5.0},{"k":"p","t":"Overall","x":0.63,"v":-5.4},{"k":"p","t":"Overall","x":0.95,"v":-5.6},{"k":"p","t":"Overall","x":1.28,"v":-6.1},{"k":"p","t":"Overall","x":0.63,"v":-7.1},{"k":"p","t":"Overall","x":0.86,"v":-3.9},{"k":"p","t":"Overall","x":1.18,"v":5.0},{"k":"p","t":"Overall","x":0.68,"v":4.8},{"k":"p","t":"Overall","x":1.0,"v":4.5},{"k":"p","t":"Overall","x":1.32,"v":4.3},{"k":"p","t":"Overall","x":0.77,"v":1.3},{"k":"p","t":"Overall","x":1.28,"v":-0.9},{"k":"p","t":"Overall","x":0.95,"v":-0.6},{"k":"p","t":"Overall","x":1.05,"v":1.7},{"k":"p","t":"Overall","x":0.72,"v":2.8},{"k":"p","t":"Overall","x":1.14,"v":-2.8},{"k":"p","t":"Overall","x":0.86,"v":-3.5},{"k":"p","t":"Overall","x":0.68,"v":-1.3},{"k":"p","t":"Overall","x":1.23,"v":-5.4},{"k":"p","t":"Overall","x":0.91,"v":-6.1},{"k":"p","t":"Overall","x":1.05,"v":0.9},{"k":"p","t":"Overall","x":0.82,"v":-1.9},
{"k":"p","t":"Overall","x":1.9,"v":6.1},{"k":"p","t":"Overall","x":2.11,"v":5.6},{"k":"p","t":"Overall","x":2.34,"v":4.5},{"k":"p","t":"Overall","x":1.7,"v":3.9},{"k":"p","t":"Overall","x":1.93,"v":3.9},{"k":"p","t":"Overall","x":2.2,"v":3.7},{"k":"p","t":"Overall","x":1.79,"v":3.2},{"k":"p","t":"Overall","x":2.06,"v":3.0},{"k":"p","t":"Overall","x":2.34,"v":2.8},{"k":"p","t":"Overall","x":1.65,"v":2.4},{"k":"p","t":"Overall","x":1.93,"v":2.2},{"k":"p","t":"Overall","x":2.2,"v":1.9},{"k":"p","t":"Overall","x":1.74,"v":1.5},{"k":"p","t":"Overall","x":2.02,"v":1.3},{"k":"p","t":"Overall","x":2.29,"v":1.1},{"k":"p","t":"Overall","x":1.61,"v":0.9},{"k":"p","t":"Overall","x":1.88,"v":0.6},{"k":"p","t":"Overall","x":2.16,"v":0.4},{"k":"p","t":"Overall","x":1.74,"v":0.0},{"k":"p","t":"Overall","x":2.06,"v":-0.2},{"k":"p","t":"Overall","x":2.34,"v":-0.4},{"k":"p","t":"Overall","x":1.61,"v":-0.9},{"k":"p","t":"Overall","x":1.93,"v":-1.1},{"k":"p","t":"Overall","x":2.2,"v":-1.3},{"k":"p","t":"Overall","x":1.7,"v":-1.7},{"k":"p","t":"Overall","x":2.02,"v":-1.9},{"k":"p","t":"Overall","x":2.29,"v":-2.2},{"k":"p","t":"Overall","x":1.79,"v":-2.6},{"k":"p","t":"Overall","x":2.11,"v":-2.8},{"k":"p","t":"Overall","x":1.61,"v":-3.0},{"k":"p","t":"Overall","x":1.93,"v":-3.2},{"k":"p","t":"Overall","x":2.25,"v":-3.5},{"k":"p","t":"Overall","x":1.74,"v":-3.9},{"k":"p","t":"Overall","x":2.06,"v":-4.1},{"k":"p","t":"Overall","x":2.34,"v":-4.3},{"k":"p","t":"Overall","x":1.83,"v":-4.8},{"k":"p","t":"Overall","x":2.16,"v":-5.0},{"k":"p","t":"Overall","x":1.61,"v":-4.8},{"k":"p","t":"Overall","x":1.97,"v":-5.6},{"k":"p","t":"Overall","x":2.29,"v":-6.9},{"k":"p","t":"Overall","x":1.88,"v":-6.3},{"k":"p","t":"Overall","x":1.7,"v":-7.6},{"k":"p","t":"Overall","x":1.72,"v":-8.4},{"k":"p","t":"Overall","x":2.2,"v":-5.4},{"k":"p","t":"Overall","x":2.38,"v":4.1},{"k":"p","t":"Overall","x":1.97,"v":4.5},{"k":"p","t":"Overall","x":1.65,"v":3.0},{"k":"p","t":"Overall","x":2.11,"v":1.9},{"k":"p","t":"Overall","x":2.38,"v":1.3},{"k":"p","t":"Overall","x":1.83,"v":0.2},{"k":"p","t":"Overall","x":2.25,"v":-0.9},{"k":"p","t":"Overall","x":1.97,"v":-2.6},{"k":"p","t":"Overall","x":1.65,"v":-3.7},{"k":"p","t":"Overall","x":2.25,"v":-6.1},{"k":"p","t":"Overall","x":1.88,"v":-0.6},{"k":"p","t":"Overall","x":2.38,"v":-1.9},
{"k":"p","t":"Overall","x":2.89,"v":8.9},{"k":"p","t":"Overall","x":3.17,"v":8.4},{"k":"p","t":"Overall","x":2.66,"v":6.7},{"k":"p","t":"Overall","x":2.8,"v":6.5},{"k":"p","t":"Overall","x":3.07,"v":6.3},{"k":"p","t":"Overall","x":3.3,"v":6.1},{"k":"p","t":"Overall","x":2.71,"v":5.6},{"k":"p","t":"Overall","x":2.98,"v":5.4},{"k":"p","t":"Overall","x":3.26,"v":5.2},{"k":"p","t":"Overall","x":2.6,"v":4.5},{"k":"p","t":"Overall","x":2.84,"v":4.3},{"k":"p","t":"Overall","x":3.12,"v":4.1},{"k":"p","t":"Overall","x":3.35,"v":3.9},{"k":"p","t":"Overall","x":2.66,"v":3.5},{"k":"p","t":"Overall","x":2.94,"v":3.2},{"k":"p","t":"Overall","x":3.21,"v":3.0},{"k":"p","t":"Overall","x":2.75,"v":2.6},{"k":"p","t":"Overall","x":3.03,"v":2.4},{"k":"p","t":"Overall","x":3.3,"v":2.2},{"k":"p","t":"Overall","x":2.61,"v":1.7},{"k":"p","t":"Overall","x":2.89,"v":1.5},{"k":"p","t":"Overall","x":3.17,"v":1.3},{"k":"p","t":"Overall","x":2.71,"v":0.9},{"k":"p","t":"Overall","x":2.98,"v":0.6},{"k":"p","t":"Overall","x":3.26,"v":0.4},{"k":"p","t":"Overall","x":2.6,"v":0.0},{"k":"p","t":"Overall","x":2.84,"v":-0.2},{"k":"p","t":"Overall","x":3.12,"v":-0.4},{"k":"p","t":"Overall","x":3.35,"v":-0.6},{"k":"p","t":"Overall","x":2.71,"v":-1.1},{"k":"p","t":"Overall","x":2.98,"v":-1.3},{"k":"p","t":"Overall","x":3.26,"v":-1.5},{"k":"p","t":"Overall","x":2.61,"v":-1.9},{"k":"p","t":"Overall","x":2.89,"v":-2.2},{"k":"p","t":"Overall","x":3.17,"v":-2.4},{"k":"p","t":"Overall","x":2.75,"v":-2.8},{"k":"p","t":"Overall","x":3.03,"v":-3.0},{"k":"p","t":"Overall","x":3.3,"v":-3.2},{"k":"p","t":"Overall","x":2.66,"v":-3.7},{"k":"p","t":"Overall","x":2.94,"v":-3.9},{"k":"p","t":"Overall","x":3.21,"v":-4.1},{"k":"p","t":"Overall","x":2.8,"v":-4.8},{"k":"p","t":"Overall","x":3.12,"v":-5.0},{"k":"p","t":"Overall","x":2.71,"v":-5.8},{"k":"p","t":"Overall","x":2.61,"v":-4.8},{"k":"p","t":"Overall","x":2.89,"v":2.6},{"k":"p","t":"Overall","x":3.07,"v":1.7},{"k":"p","t":"Overall","x":2.8,"v":0.4},{"k":"p","t":"Overall","x":3.35,"v":3.0},{"k":"p","t":"Overall","x":2.6,"v":3.0},{"k":"p","t":"Overall","x":3.07,"v":7.4},{"k":"p","t":"Overall","x":2.75,"v":5.0},{"k":"p","t":"Overall","x":3.21,"v":-1.9},{"k":"p","t":"Overall","x":2.89,"v":-0.9},{"k":"p","t":"Overall","x":3.39,"v":1.3}
]
},
"vconcat": [
{
  "title": {"text": "Prior beliefs", "dx": 15, "offset": 2.5},
  "spacing": 0,
  "vconcat": [
    {
      "data": {"values": [{"t":"Trans"},{"t":"Climate"},{"t":"AI"},{"t":"Israel"},{"t":"Overall"}]},
      "facet": {"column": {"field": "t", "type": "nominal", "sort": ["Trans","Climate","AI","Israel","Overall"], "header": {"labels": false, "title": null}}},
      "spacing": 7,
      "bounds": "flush",
      "spec": {"width": 114, "height": 19, "layer": [
        {"mark": {"type": "rect", "fill": "white", "stroke": "#555555", "strokeWidth": 1}, "encoding": {}},
        {"mark": {"type": "text", "fontSize": 10, "color": "#1a1a1a"}, "encoding": {"text": {"field": "t", "type": "nominal"}}}
      ]}
    },
    {
      "data": {"name": "top"},
      "facet": {"column": {"field": "t", "type": "nominal", "sort": ["Trans","Climate","AI","Israel","Overall"], "header": {"labels": false, "title": null}}},
      "spacing": 7,
      "bounds": "flush",
      "spec": {
        "width": 114, "height": 175,
        "layer": [
          {
            "transform": [{"filter": "datum.k == 'v'"}],
            "mark": {"type": "area", "orient": "horizontal", "stroke": "#333333", "strokeWidth": 0.8},
            "encoding": {
              "y": {"field": "v", "type": "quantitative", "scale": {"domain": [-1.287, 1.258], "nice": false, "zero": false},
                    "axis": {"values": [-1, -0.5, 0, 0.5, 1], "labelExpr": "datum.value == 1 ? 'right' : datum.value == 0 ? 'mid' : datum.value == -1 ? 'left' : ''", "labelAngle": 270, "labelAlign": "right", "labelBaseline": "bottom", "labelFontSize": 8.5, "labelPadding": 2, "title": "Political Direction", "titlePadding": 1.5,
                             "gridColor": {"condition": {"test": "datum.value % 1 !== 0", "value": "#f0f0f0"}, "value": "#e6e6e6"},
                             "tickOpacity": {"condition": {"test": "datum.value % 1 !== 0", "value": 0}, "value": 1}}},
              "x": {"field": "xr", "type": "quantitative", "scale": {"domain": [0.4, 3.6], "nice": false, "zero": false},
                    "axis": {"values": [1, 2, 3], "labelExpr": "datum.value == 1 ? 'Left' : datum.value == 2 ? 'Control' : 'Right'", "title": null, "labelOffset": -7}},
              "x2": {"field": "xb"},
              "detail": {"field": "g", "type": "nominal"},
              "fill": {"field": "t", "type": "nominal", "scale": {"domain": ["Trans","Climate","AI","Israel","Overall"], "range": ["#DEB3DB","#A6E0C8","#A9CBF0","#F0DDA2","#EFA4A5"]}, "legend": null}
            }
          },
          {
            "transform": [{"filter": "datum.k == 's' && datum.x == 1"}],
            "mark": {"type": "rule", "color": "#333333", "strokeWidth": 1.2, "strokeDash": [6, 4]},
            "encoding": {"y": {"datum": 0}}
          },
          {
            "transform": [{"filter": "datum.k == 's'"}],
            "mark": {"type": "rule", "color": "black", "strokeWidth": 1},
            "encoding": {"x": {"field": "x", "type": "quantitative"}, "y": {"field": "lo", "type": "quantitative"}, "y2": {"field": "hi"}}
          },
          {
            "transform": [{"filter": "datum.k == 's'"}],
            "mark": {"type": "tick", "orient": "horizontal", "size": 8, "thickness": 1, "color": "black"},
            "encoding": {"x": {"field": "x", "type": "quantitative"}, "y": {"field": "lo", "type": "quantitative"}}
          },
          {
            "transform": [{"filter": "datum.k == 's'"}],
            "mark": {"type": "tick", "orient": "horizontal", "size": 8, "thickness": 1, "color": "black"},
            "encoding": {"x": {"field": "x", "type": "quantitative"}, "y": {"field": "hi", "type": "quantitative"}}
          },
          {
            "transform": [{"filter": "datum.k == 's'"}],
            "mark": {"type": "circle", "size": 22, "color": "black", "opacity": 1},
            "encoding": {"x": {"field": "x", "type": "quantitative"}, "y": {"field": "m", "type": "quantitative"}}
          }
        ]
      }
    }
  ]
},
{
  "title": {"text": "Belief change", "dx": 15, "offset": 5},
  "spacing": 0,
  "vconcat": [
    {
      "data": {"values": [{"t":"Trans"},{"t":"Climate"},{"t":"AI"},{"t":"Israel"},{"t":"Overall"}]},
      "facet": {"column": {"field": "t", "type": "nominal", "sort": ["Trans","Climate","AI","Israel","Overall"], "header": {"labels": false, "title": null}}},
      "spacing": 6,
      "bounds": "flush",
      "spec": {"width": 116, "height": 18, "layer": [
        {"mark": {"type": "rect", "fill": "white", "stroke": "#555555", "strokeWidth": 1}, "encoding": {}},
        {"mark": {"type": "text", "fontSize": 10, "color": "#1a1a1a"}, "encoding": {"text": {"field": "t", "type": "nominal"}}}
      ]}
    },
    {
      "data": {"name": "bot"},
      "facet": {"column": {"field": "t", "type": "nominal", "sort": ["Trans","Climate","AI","Israel","Overall"], "header": {"labels": false, "title": null}}},
      "spacing": 6,
      "bounds": "flush",
      "spec": {
        "width": 116, "height": 171,
        "layer": [
          {
            "transform": [{"filter": "datum.k == 'p'"}],
            "mark": {"type": "circle", "size": 34, "opacity": 0.55},
            "encoding": {
              "y": {"field": "v", "type": "quantitative", "scale": {"domain": [-10.95, 11.3], "nice": false, "zero": false},
                    "axis": {"values": [-10, -7.5, -5, -2.5, 0, 2.5, 5, 7.5, 10], "labelExpr": "datum.value % 5 === 0 ? datum.label : ''", "labelAngle": 270, "labelAlign": "center", "labelBaseline": "bottom", "labelFontSize": 9, "labelPadding": 0, "title": "Belief change (higher = right shift)", "titlePadding": 2,
                             "gridColor": {"condition": {"test": "datum.value % 5 !== 0", "value": "#f0f0f0"}, "value": "#e6e6e6"},
                             "tickOpacity": {"condition": {"test": "datum.value % 5 !== 0", "value": 0}, "value": 1}}},
              "x": {"field": "x", "type": "quantitative", "scale": {"domain": [0.4, 3.6], "nice": false, "zero": false},
                    "axis": {"values": [1, 2, 3], "labelExpr": "datum.value == 1 ? 'Left' : datum.value == 2 ? 'Control' : 'Right'", "title": null}},
              "color": {"field": "t", "type": "nominal", "scale": {"domain": ["Trans","Climate","AI","Israel","Overall"], "range": ["#B93DB0","#22AA70","#2F7FD8","#DCA721","#D91E22"]}, "legend": null}
            }
          },
          {
            "transform": [{"filter": "datum.k == 'b'"}],
            "mark": {"type": "bar", "width": 33, "fillOpacity": 0.4, "stroke": "black", "strokeWidth": 1.2},
            "encoding": {
              "x": {"field": "x", "type": "quantitative"},
              "y": {"field": "m", "type": "quantitative"},
              "y2": {"datum": 0},
              "color": {"field": "t", "type": "nominal", "legend": null}
            }
          },
          {
            "transform": [{"filter": "datum.k == 'b'"}],
            "mark": {"type": "rule", "color": "black", "strokeWidth": 1.1},
            "encoding": {"x": {"field": "x", "type": "quantitative"}, "y": {"field": "lo", "type": "quantitative"}, "y2": {"field": "hi"}}
          },
          {
            "transform": [{"filter": "datum.k == 'b'"}],
            "mark": {"type": "tick", "orient": "horizontal", "size": 10, "thickness": 1.1, "color": "black"},
            "encoding": {"x": {"field": "x", "type": "quantitative"}, "y": {"field": "lo", "type": "quantitative"}}
          },
          {
            "transform": [{"filter": "datum.k == 'b'"}],
            "mark": {"type": "tick", "orient": "horizontal", "size": 10, "thickness": 1.1, "color": "black"},
            "encoding": {"x": {"field": "x", "type": "quantitative"}, "y": {"field": "hi", "type": "quantitative"}}
          }
        ]
      }
    }
  ]
}
]
}
